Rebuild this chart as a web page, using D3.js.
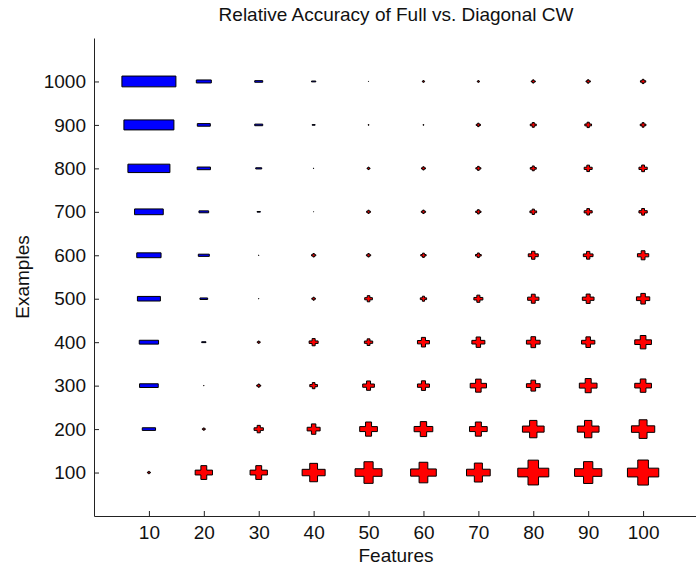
<!DOCTYPE html>
<html>
<head>
<meta charset="utf-8">
<script src="https://cdn.jsdelivr.net/npm/d3@7"></script>
<style>
  body { margin: 0; background: #fff; }
  text { font-family: "Liberation Sans", Arial, Helvetica, sans-serif; fill: #111; }
</style>
</head>
<body>
<div id="vis"></div>
<script>
window.onload = function() {
const FRAME_WIDTH = 696;
const FRAME_HEIGHT = 573;
const MARGINS = {left: 94, right: -2, top: 38, bottom: 57};

// categories
const features = [10, 20, 30, 40, 50, 60, 70, 80, 90, 100];
const examples = [100, 200, 300, 400, 500, 600, 700, 800, 900, 1000];

// relative accuracy per row of examples (positive = full better, negative = diagonal better)
const acc100  = [ 0.30,  1.73,  1.73,  2.30,  2.70, 2.57, 2.37, 3.10, 2.73, 3.13];
const acc200  = [-1.33,  0.30,  0.93,  1.30,  1.77, 1.87, 1.77, 2.17, 2.17, 2.33];
const acc300  = [-1.87,  0.05,  0.40,  0.77,  1.17, 1.20, 1.63, 1.37, 1.77, 1.67];
const acc400  = [-1.93, -0.43,  0.30,  0.90,  0.83, 1.20, 1.30, 1.37, 1.33, 1.67];
const acc500  = [-2.30, -0.77,  0.05,  0.37,  0.77, 0.63, 0.90, 1.13, 1.17, 1.33];
const acc600  = [-2.43, -1.10,  0.05,  0.43,  0.43, 0.53, 0.57, 1.00, 0.97, 1.13];
const acc700  = [-2.87, -0.97, -0.33,  0.03,  0.40, 0.43, 0.53, 0.67, 0.80, 0.83];
const acc800  = [-4.20, -1.33, -0.60, -0.07,  0.30, 0.40, 0.50, 0.60, 0.80, 0.83];
const acc900  = [-5.00, -1.30, -0.80, -0.30,  0.10, 0.10, 0.43, 0.60, 0.67, 0.57];
const acc1000 = [-5.40, -1.50, -0.80, -0.43, -0.05, 0.23, 0.23, 0.40, 0.43, 0.53];

const rows = [acc100, acc200, acc300, acc400, acc500, acc600, acc700, acc800, acc900, acc1000];

const VIS = d3.select("#vis")
  .append("svg")
  .attr("width", FRAME_WIDTH)
  .attr("height", FRAME_HEIGHT);

const xScale = d3.scaleLinear()
  .domain([0, 110])
  .range([MARGINS.left, FRAME_WIDTH - MARGINS.right]);

const yScale = d3.scaleLinear()
  .domain([0, 1100])
  .range([FRAME_HEIGHT - MARGINS.bottom, MARGINS.top]);

// marker width in px
const sizeScale = d3.scaleLinear()
  .domain([0, 1])
  .range([0, 10]);

// flatten to cells
const cells = [];
rows.forEach((row, i) => {
  row.forEach((v, j) => {
    cells.push({examples: examples[i], features: features[j], value: v});
  });
});

// plus / minus shapes
function markerPath(d) {
  const cx = xScale(d.features);
  const cy = yScale(d.examples);
  const w = sizeScale(Math.abs(d.value));
  const hw = w / 2;
  if (d.value < 0) {
    const hh = w * 0.1;
    return `M${cx - hw},${cy - hh}H${cx + hw}V${cy + hh}H${cx - hw}Z`;
  }
  const hh = w * 0.4;      // half height of the plus
  const vt = w * 0.17;     // half width of vertical bar
  const ht = w * 0.14;     // half height of horizontal bar
  return `M${cx - vt},${cy - hh}H${cx + vt}V${cy - ht}H${cx + hw}V${cy + ht}H${cx + vt}` +
         `V${cy + hh}H${cx - vt}V${cy + ht}H${cx - hw}V${cy - ht}H${cx - vt}Z`;
}

VIS.append("g")
  .selectAll("path")
  .data(cells)
  .enter()
  .append("path")
  .attr("d", markerPath)
  .attr("fill", (d) => d.value < 0 ? "#0000ff" : "#ff0000")
  .attr("stroke", "#000")
  .attr("stroke-width", 1)
  .attr("stroke-linejoin", "miter");

// axes, ticks pointing inward like matlab
const xAxis = d3.axisBottom(xScale)
  .tickValues(features)
  .tickFormat(d3.format("d"))
  .tickSizeInner(-5)
  .tickSizeOuter(0)
  .tickPadding(10);

const yAxis = d3.axisLeft(yScale)
  .tickValues(examples)
  .tickFormat(d3.format("d"))
  .tickSizeInner(-5)
  .tickSizeOuter(0)
  .tickPadding(8);

const gx = VIS.append("g")
  .attr("transform", `translate(0, ${FRAME_HEIGHT - MARGINS.bottom})`)
  .call(xAxis);

const gy = VIS.append("g")
  .attr("transform", `translate(${MARGINS.left}, 0)`)
  .call(yAxis);

[gx, gy].forEach((g) => {
  g.select(".domain").attr("stroke", "#222");
  g.selectAll(".tick line").attr("stroke", "#222");
  g.selectAll("text")
    .attr("font-size", "19px")
    .attr("font-family", "Liberation Sans, Arial, sans-serif")
    .attr("fill", "#111");
});

const midX = (xScale.range()[0] + xScale.range()[1]) / 2;
const midY = (yScale.range()[0] + yScale.range()[1]) / 2;

// title
VIS.append("text")
  .attr("x", midX)
  .attr("y", 21)
  .attr("text-anchor", "middle")
  .attr("font-size", "19px")
  .text("Relative Accuracy of Full vs. Diagonal CW");

// x axis label
VIS.append("text")
  .attr("x", midX)
  .attr("y", 562)
  .attr("text-anchor", "middle")
  .attr("font-size", "19px")
  .text("Features");

// y axis label
VIS.append("text")
  .attr("transform", `translate(29, ${midY}) rotate(-90)`)
  .attr("text-anchor", "middle")
  .attr("font-size", "19px")
  .text("Examples");
};
</script>
</body>
</html>
